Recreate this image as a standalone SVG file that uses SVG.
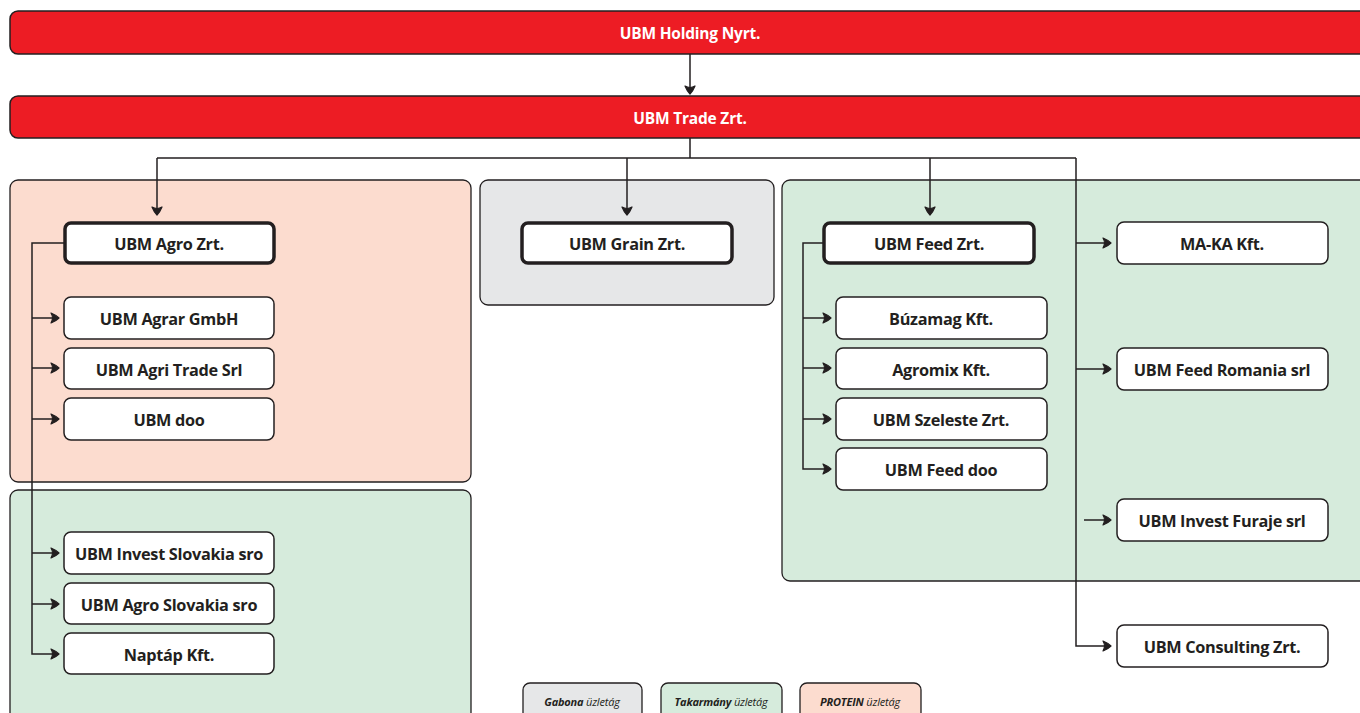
<svg xmlns="http://www.w3.org/2000/svg" width="1360" height="713" viewBox="0 0 1360 713">
<style>
.bar{fill:#ed1c24;stroke:#231f20;stroke-width:1.5}
.bt{font-family:"Open Sans","Liberation Sans",sans-serif;font-weight:bold;font-size:15.5px;fill:#fff;text-anchor:middle;letter-spacing:-0.2px}
.area{stroke:#231f20;stroke-width:1.3}
.peach{fill:#fcdccf}
.green{fill:#d6ebdc}
.grey{fill:#e6e7e8}
.box{fill:#fff;stroke:#231f20;stroke-width:1.5}
.main{fill:#fff;stroke:#231f20;stroke-width:3.5}
.t{font-family:"Open Sans","Liberation Sans",sans-serif;font-weight:bold;font-size:16.3px;fill:#231f20;text-anchor:middle;letter-spacing:-0.3px}
.lg{font-family:"Open Sans","Liberation Sans",sans-serif;font-style:italic;font-size:11px;fill:#231f20;text-anchor:middle;letter-spacing:-0.2px}
.conn path{fill:none;stroke:#231f20;stroke-width:1.5}
</style>
<defs>
<marker id="ah" viewBox="-9 -7 11 14" refX="0" refY="0" markerWidth="11" markerHeight="14" markerUnits="userSpaceOnUse" orient="auto">
<path d="M-7,-5 Q-2,-3 1,0 Q-2,3 -7,5 Q-4,0 -7,-5 Z" fill="#231f20" stroke="#231f20" stroke-width="1.2" stroke-linejoin="round"/>
</marker>
</defs>
<rect width="1360" height="713" fill="#fff"/>

<g id="holding"><rect class="bar" x="10" y="11" width="1370" height="43" rx="8"/><text class="bt" x="690" y="39">UBM Holding Nyrt.</text></g>
<g id="trade"><rect class="bar" x="10" y="96" width="1370" height="42" rx="8"/><text class="bt" x="690" y="124">UBM Trade Zrt.</text></g>

<g id="area-protein"><rect class="area peach" x="10" y="180" width="461" height="302" rx="8"/></g>
<g id="area-takarmany-left"><rect class="area green" x="10" y="490" width="461" height="240" rx="8"/></g>
<g id="area-gabona"><rect class="area grey" x="480" y="180" width="294" height="125" rx="8"/></g>
<g id="area-takarmany-right"><rect class="area green" x="782" y="180" width="600" height="401" rx="8"/></g>

<g class="conn" id="connectors">
<path d="M690,54 V93" marker-end="url(#ah)"/>
<path d="M690,138 V158 M157,158 H1076"/>
<path d="M157,158 V214" marker-end="url(#ah)"/>
<path d="M627,158 V214" marker-end="url(#ah)"/>
<path d="M930,158 V214" marker-end="url(#ah)"/>
<path d="M1076,158 V646 H1110" marker-end="url(#ah)"/>
<path d="M1076,243 H1110" marker-end="url(#ah)"/>
<path d="M1076,369 H1110" marker-end="url(#ah)"/>
<path d="M1084,520 H1110" marker-end="url(#ah)"/>
<path d="M64,243 H32 V654 H58" marker-end="url(#ah)"/>
<path d="M32,318 H58" marker-end="url(#ah)"/>
<path d="M32,368 H58" marker-end="url(#ah)"/>
<path d="M32,419 H58" marker-end="url(#ah)"/>
<path d="M32,553 H58" marker-end="url(#ah)"/>
<path d="M32,604 H58" marker-end="url(#ah)"/>
<path d="M823,243 H803 V469 H830" marker-end="url(#ah)"/>
<path d="M803,318 H830" marker-end="url(#ah)"/>
<path d="M803,368 H830" marker-end="url(#ah)"/>
<path d="M803,419 H830" marker-end="url(#ah)"/>
</g>

<g id="agro"><rect class="main" x="65" y="223" width="209" height="40" rx="6"/><text class="t" x="169" y="250">UBM Agro Zrt.</text></g>
<g id="agrar"><rect class="box" x="64" y="297" width="210" height="42" rx="7"/><text class="t" x="169" y="325">UBM Agrar GmbH</text></g>
<g id="agritrade"><rect class="box" x="64" y="348" width="210" height="41" rx="7"/><text class="t" x="169" y="376">UBM Agri Trade Srl</text></g>
<g id="doo"><rect class="box" x="64" y="398" width="210" height="42" rx="7"/><text class="t" x="169" y="426">UBM doo</text></g>
<g id="investslovakia"><rect class="box" x="64" y="532" width="210" height="42" rx="7"/><text class="t" x="169" y="560">UBM Invest Slovakia sro</text></g>
<g id="agroslovakia"><rect class="box" x="64" y="583" width="210" height="41" rx="7"/><text class="t" x="169" y="611">UBM Agro Slovakia sro</text></g>
<g id="naptap"><rect class="box" x="64" y="633" width="210" height="41" rx="7"/><text class="t" x="169" y="661">Naptáp Kft.</text></g>

<g id="grain"><rect class="main" x="522" y="223" width="210" height="40" rx="6"/><text class="t" x="627" y="250">UBM Grain Zrt.</text></g>

<g id="feed"><rect class="main" x="824" y="223" width="210" height="40" rx="6"/><text class="t" x="929" y="250">UBM Feed Zrt.</text></g>
<g id="buzamag"><rect class="box" x="836" y="297" width="211" height="42" rx="7"/><text class="t" x="941" y="325">Búzamag Kft.</text></g>
<g id="agromix"><rect class="box" x="836" y="348" width="211" height="41" rx="7"/><text class="t" x="941" y="376">Agromix Kft.</text></g>
<g id="szeleste"><rect class="box" x="836" y="398" width="211" height="42" rx="7"/><text class="t" x="941" y="426">UBM Szeleste Zrt.</text></g>
<g id="feeddoo"><rect class="box" x="836" y="448" width="211" height="42" rx="7"/><text class="t" x="941" y="476">UBM Feed doo</text></g>

<g id="maka"><rect class="box" x="1117" y="222" width="211" height="42" rx="7"/><text class="t" x="1222" y="250">MA-KA Kft.</text></g>
<g id="feedromania"><rect class="box" x="1117" y="348" width="211" height="42" rx="7"/><text class="t" x="1222" y="376">UBM Feed Romania srl</text></g>
<g id="investfuraje"><rect class="box" x="1117" y="499" width="211" height="42" rx="7"/><text class="t" x="1222" y="527">UBM Invest Furaje srl</text></g>
<g id="consulting"><rect class="box" x="1117" y="625" width="211" height="42" rx="7"/><text class="t" x="1222" y="653">UBM Consulting Zrt.</text></g>

<g id="legend-gabona"><rect class="area grey" x="523" y="683" width="119" height="40" rx="7"/><text class="lg" x="582" y="706"><tspan font-weight="bold">Gabona</tspan> üzletág</text></g>
<g id="legend-takarmany"><rect class="area green" x="661" y="683" width="121" height="40" rx="7"/><text class="lg" x="721" y="706"><tspan font-weight="bold">Takarmány</tspan> üzletág</text></g>
<g id="legend-protein"><rect class="area peach" x="800" y="683" width="121" height="40" rx="7"/><text class="lg" x="860" y="706"><tspan font-weight="bold">PROTEIN</tspan> üzletág</text></g>
</svg>
